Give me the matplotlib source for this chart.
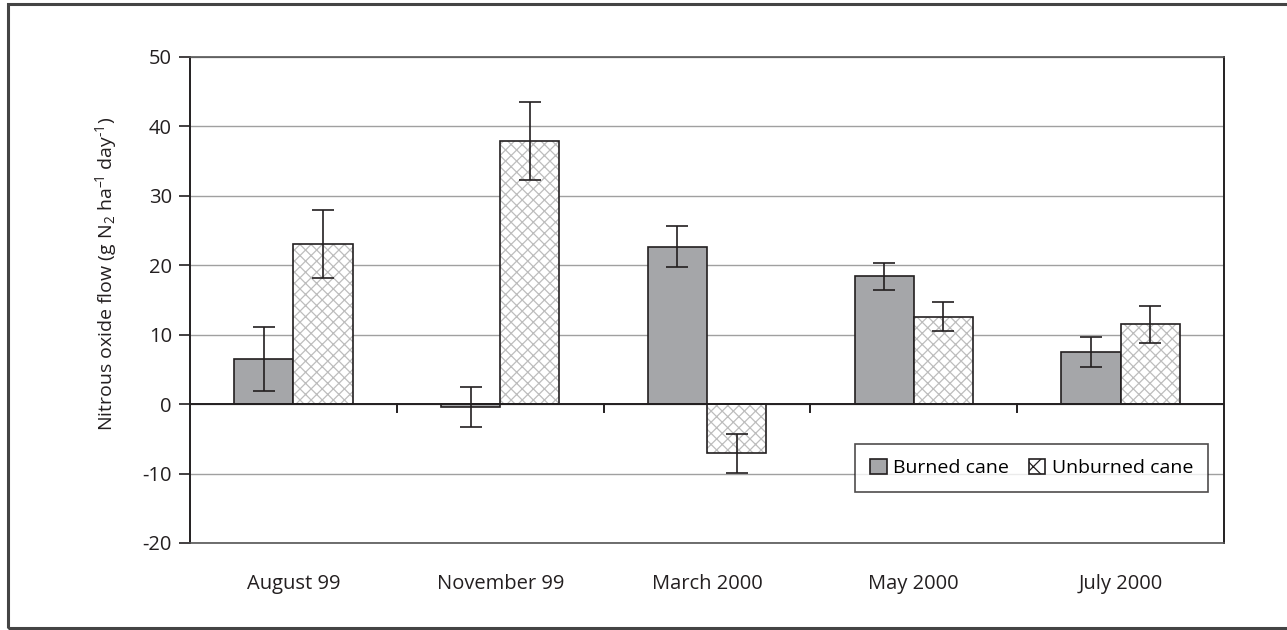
import matplotlib.pyplot as plt
import matplotlib.patches as mpatches
import numpy as np

plt.rcParams['font.family'] = ['Open Sans', 'DejaVu Sans']
plt.rcParams['mathtext.fontset'] = 'custom'
plt.rcParams['mathtext.rm'] = 'Open Sans'
plt.rcParams['mathtext.it'] = 'Open Sans'
plt.rcParams['mathtext.default'] = 'rm'
plt.rcParams['hatch.linewidth'] = 0.9

months = ['August 99', 'November 99', 'March 2000', 'May 2000', 'July 2000']
burned = [6.5, -0.4, 22.7, 18.4, 7.5]
burned_err = [4.6, 2.9, 2.9, 2.0, 2.1]
unburned = [23.1, 37.9, -7.1, 12.6, 11.5]
unburned_err = [4.9, 5.6, 2.8, 2.1, 2.7]

fs = 14.5
fig = plt.figure(figsize=(12.87, 6.3), dpi=100)
ax = fig.add_axes([190/1287, 87/630, 1034/1287, 486/630])

x = np.arange(len(months))
w = 0.286
dark = '#231f20'

ax.bar(x - w/2, burned, w, color='#a5a6a9', edgecolor=dark, linewidth=1.2, zorder=3)
ax.bar(x + w/2, unburned, w, color='white', edgecolor='#bdbdbd', hatch='xxx', linewidth=0,
       zorder=3)
ax.bar(x + w/2, unburned, w, color='none', edgecolor=dark, linewidth=1.2, zorder=4)
ax.errorbar(x - w/2, burned, yerr=burned_err, fmt='none', ecolor=dark, elinewidth=1.2,
            capsize=8, capthick=1.2, zorder=5)
ax.errorbar(x + w/2, unburned, yerr=unburned_err, fmt='none', ecolor=dark, elinewidth=1.2,
            capsize=8, capthick=1.2, zorder=5)

ax.set_xlim(-0.5, len(months) - 0.5)
ax.set_ylim(-20, 50)
ax.set_yticks(range(-20, 51, 10))
ax.set_yticklabels([str(v) for v in range(-20, 51, 10)], fontsize=fs, color=dark)
ax.yaxis.grid(True, color='#a0a0a0', linewidth=1)
ax.set_axisbelow(True)

# zero line with category separators
ax.axhline(0, color=dark, linewidth=1.4, zorder=4)
for b in np.arange(0.5, len(months) - 1, 1):
    ax.plot([b, b], [0, -1.1], color=dark, linewidth=1.4, zorder=4, clip_on=False)

ax.set_xticks(x)
ax.set_xticklabels(months, fontsize=fs, color=dark)
ax.tick_params(axis='x', length=0, pad=22)
ax.tick_params(axis='y', length=8, width=1.2, color=dark, pad=5, direction='out')

for s in ['left', 'right']:
    ax.spines[s].set_color(dark)
    ax.spines[s].set_linewidth(1.4)
for s in ['top', 'bottom']:
    ax.spines[s].set_color('#555555')
    ax.spines[s].set_linewidth(1.2)

ax.set_ylabel('Nitrous oxide flow (g N$_2$ ha$^{\u2013\\!1}$ day$^{\u20111}$)', fontsize=14,
              color=dark)
ax.yaxis.set_label_coords(-0.069, 0.553)

h1 = mpatches.Patch(facecolor='#a5a6a9', edgecolor=dark, linewidth=1.2, label='Burned cane')
h2 = mpatches.Patch(facecolor='white', edgecolor=dark, hatch='x', linewidth=1.2,
                    label='Unburned cane')
leg = ax.legend(handles=[h1, h2], ncol=2, loc='lower right', bbox_to_anchor=(0.9845, 0.105),
                fontsize=14, frameon=True, fancybox=False, edgecolor=dark, handlelength=0.85,
                handleheight=0.85, handletextpad=0.35, columnspacing=1.0, borderpad=0.75,
                borderaxespad=0)
leg.get_frame().set_linewidth(1.2)
leg.set_zorder(6)

# outer frame around the whole figure
fig.patches.append(mpatches.Rectangle((8/1287, 2/630), 1.05, 624/630, transform=fig.transFigure,
                                      fill=False, edgecolor='#444444', linewidth=2.2))

fig.savefig('out.png', dpi=100)
